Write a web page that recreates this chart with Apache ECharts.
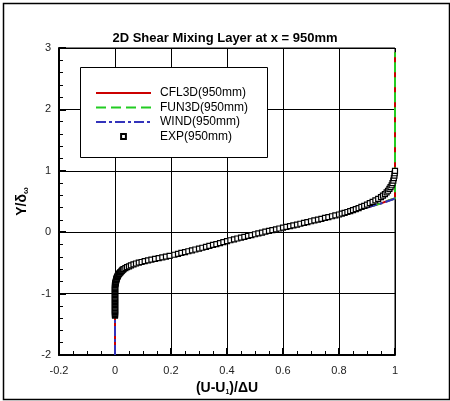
<!DOCTYPE html>
<html>
<head>
<meta charset="utf-8">
<script src="https://cdn.jsdelivr.net/npm/echarts@6/dist/echarts.min.js"></script>
<style>html,body{margin:0;padding:0;background:#fff;}#c{width:450px;height:401px;}</style>
</head>
<body>
<div id="c"></div>
<script>
var titleText = '2D Shear Mixing Layer at x = 950mm';
var seriesNames = ['CFL3D(950mm)', 'FUN3D(950mm)', 'WIND(950mm)', 'EXP(950mm)'];
var xTicks = [-0.2, 0, 0.2, 0.4, 0.6, 0.8, 1];
var yTicks = [-2, -1, 0, 1, 2, 3];

// (U-U1)/dU , Y/delta_w
var cfl3d = [
  [0, -2], [0, -1.4], [0, -0.8], [0.003, -0.74], [0.01, -0.68], [0.025, -0.62], [0.05, -0.56],
  [0.1, -0.48], [0.15, -0.415], [0.2, -0.355], [0.3, -0.245], [0.4, -0.135], [0.5, -0.03],
  [0.6, 0.075], [0.7, 0.18], [0.8, 0.285], [0.85, 0.34], [0.9, 0.4], [0.95, 0.47],
  [0.98, 0.52], [1.0, 0.55], [1.0, 1.5], [1.0, 2.93]
];
var fun3d = [
  [0, -1.25], [0, -0.8], [0.003, -0.74], [0.01, -0.68], [0.025, -0.62], [0.05, -0.56],
  [0.1, -0.48], [0.15, -0.415], [0.2, -0.355], [0.3, -0.245], [0.4, -0.135], [0.5, -0.03],
  [0.6, 0.075], [0.7, 0.18], [0.8, 0.285], [0.85, 0.34], [0.9, 0.4], [0.95, 0.47],
  [0.98, 0.52], [1.0, 0.55], [1.0, 1.5], [1.0, 2.93]
];
var wind = [
  [0, -2], [0, -1.4], [0, -0.72], [0.008, -0.66], [0.02, -0.61], [0.045, -0.56],
  [0.1, -0.48], [0.15, -0.415], [0.2, -0.355], [0.3, -0.245], [0.4, -0.135], [0.5, -0.03],
  [0.6, 0.075], [0.7, 0.18], [0.8, 0.285], [0.85, 0.34], [0.9, 0.4], [0.958, 0.48],
  [0.99, 0.53], [1.0, 0.55]
];
var expData = [
  [0, -1.36], [0, -1.348], [0, -1.335], [0, -1.322], [0, -1.31], [0, -1.297], [0, -1.285],
  [0, -1.272], [0, -1.26], [0, -1.247], [0, -1.235], [0, -1.222], [0, -1.21], [0, -1.197],
  [0, -1.185], [0, -1.172], [0, -1.16], [0, -1.147], [0, -1.135], [0, -1.122], [0, -1.11],
  [0, -1.097], [0, -1.085], [0, -1.072], [0, -1.06], [0, -1.047], [0, -1.035], [0, -1.022],
  [0, -1.01], [0, -0.997], [0, -0.985], [0, -0.972], [0, -0.96], [0, -0.947], [0, -0.935],
  [0, -0.922], [0, -0.91], [0, -0.897], [0, -0.885], [0, -0.872], [0, -0.86], [0.001, -0.85],
  [0.001, -0.84], [0.002, -0.83], [0.002, -0.82], [0.003, -0.81], [0.003, -0.80], [0.004, -0.79],
  [0.004, -0.78], [0.005, -0.77], [0.005, -0.76], [0.006, -0.75], [0.007, -0.74], [0.008, -0.73],
  [0.009, -0.72], [0.010, -0.71], [0.011, -0.70], [0.012, -0.69], [0.014, -0.68], [0.016, -0.67],
  [0.018, -0.66], [0.020, -0.65], [0.022, -0.64], [0.024, -0.63], [0.026, -0.62], [0.028, -0.61],
  [0.031, -0.60], [0.037, -0.585], [0.043, -0.57], [0.05, -0.555], [0.057, -0.54], [0.066, -0.525],
  [0.075, -0.51], [0.085, -0.497], [0.095, -0.485], [0.106, -0.472], [0.118, -0.46], [0.13, -0.447],
  [0.143, -0.435], [0.156, -0.423], [0.169, -0.41], [0.182, -0.398], [0.195, -0.385], [0.212, -0.367],
  [0.225, -0.352], [0.237, -0.338], [0.25, -0.324], [0.262, -0.31], [0.275, -0.296], [0.287, -0.282],
  [0.3, -0.268], [0.312, -0.253], [0.325, -0.238], [0.337, -0.223], [0.35, -0.208], [0.362, -0.193],
  [0.375, -0.177], [0.387, -0.161], [0.4, -0.145], [0.412, -0.131], [0.425, -0.117], [0.437, -0.103],
  [0.45, -0.089], [0.462, -0.075], [0.475, -0.061], [0.487, -0.047], [0.5, -0.033], [0.512, -0.02],
  [0.525, -0.006], [0.537, 0.008], [0.55, 0.021], [0.562, 0.034], [0.575, 0.047], [0.587, 0.06],
  [0.6, 0.073], [0.612, 0.086], [0.625, 0.099], [0.637, 0.112], [0.65, 0.125], [0.662, 0.138],
  [0.675, 0.151], [0.687, 0.164], [0.7, 0.178], [0.712, 0.191], [0.725, 0.205], [0.737, 0.218],
  [0.75, 0.232], [0.762, 0.246], [0.775, 0.26], [0.787, 0.274], [0.8, 0.288], [0.81, 0.301],
  [0.82, 0.315], [0.83, 0.329], [0.84, 0.344], [0.85, 0.36], [0.86, 0.376], [0.87, 0.393],
  [0.88, 0.411], [0.89, 0.43], [0.9, 0.45], [0.91, 0.472], [0.92, 0.495], [0.93, 0.518],
  [0.94, 0.543], [0.95, 0.57], [0.957, 0.595], [0.964, 0.62], [0.97, 0.647], [0.975, 0.675],
  [0.98, 0.705], [0.984, 0.735], [0.988, 0.765], [0.991, 0.8], [0.994, 0.84], [0.996, 0.88],
  [0.998, 0.92], [0.999, 0.96], [1.0, 1.0]
];

var FONT = 'Liberation Sans, Arial, sans-serif';
var chart = echarts.init(document.getElementById('c'), null, {renderer: 'canvas'});
var hideSym = {opacity: 0};
var option = {
  animation: false,
  backgroundColor: '#fff',
  title: {
    text: titleText, left: 'center', top: 27,
    textStyle: {fontFamily: FONT, fontSize: 13, fontWeight: 'bold', color: '#000'}
  },
  graphic: [
    {type: 'rect', left: 1, top: 1, shape: {width: 446, height: 396}, style: {fill: 'none', stroke: '#000', lineWidth: 1.5}, z: 0},
    {type: 'rect', left: 80, top: 67, shape: {width: 187, height: 90}, style: {fill: '#fff', stroke: '#000', lineWidth: 1}, z: 20}
  ],
  legend: {
    orient: 'vertical', left: 95, top: 86, padding: 0, itemGap: 0.5,
    itemWidth: 55, itemHeight: 6, z: 30,
    data: [
      {name: seriesNames[0], itemStyle: hideSym},
      {name: seriesNames[1], itemStyle: hideSym},
      {name: seriesNames[2], itemStyle: hideSym},
      {name: seriesNames[3]}
    ],
    textStyle: {fontFamily: FONT, fontSize: 12, color: '#000', lineHeight: 14, padding: [0, 0, 0, 4]}
  },
  grid: {left: 59, right: 55, top: 48, bottom: 46, show: true, borderColor: '#000', borderWidth: 1, backgroundColor: 'transparent'},
  xAxis: {
    type: 'value', min: xTicks[0], max: xTicks[xTicks.length - 1], interval: 0.2,
    name: '(U-U{s|1})/ΔU', nameLocation: 'middle', nameGap: 20,
    nameTextStyle: {fontFamily: FONT, fontSize: 14, fontWeight: 'bold', color: '#000',
      rich: {s: {fontFamily: FONT, fontSize: 7, fontWeight: 'bold', color: '#000', padding: [9, 0, 0, 0]}}},
    axisLine: {show: true, onZero: false, lineStyle: {color: '#000', width: 2}},
    axisTick: {show: true, inside: true, length: 7, lineStyle: {color: '#000', width: 2}},
    minorTick: {show: true, splitNumber: 4, length: 4, lineStyle: {color: '#000', width: 1}},
    splitLine: {show: true, lineStyle: {color: '#000', width: 1}},
    axisLabel: {fontFamily: FONT, fontSize: 11, color: '#222', margin: 10,
      formatter: function (v) { return String(Math.round(v * 10) / 10); }}
  },
  yAxis: {
    type: 'value', min: yTicks[0], max: yTicks[yTicks.length - 1], interval: 1,
    name: 'Y/δ{s|ω}', nameLocation: 'middle', nameGap: 29, nameRotate: 90,
    nameTextStyle: {fontFamily: FONT, fontSize: 14, fontWeight: 'bold', color: '#000',
      rich: {s: {fontFamily: FONT, fontSize: 8, fontWeight: 'bold', color: '#000', padding: [7, 0, 0, 0]}}},
    axisLine: {show: true, onZero: false, lineStyle: {color: '#000', width: 2}},
    axisTick: {show: true, inside: true, length: 7, lineStyle: {color: '#000', width: 2}},
    minorTick: {show: true, splitNumber: 5, length: 4, lineStyle: {color: '#000', width: 1}},
    splitLine: {show: true, lineStyle: {color: '#000', width: 1}},
    axisLabel: {fontFamily: FONT, fontSize: 11, color: '#222', margin: 8}
  },
  series: [
    {name: seriesNames[0], type: 'line', data: cfl3d, symbol: 'none', z: 3,
      lineStyle: {color: '#cc0000', width: 2}, itemStyle: {color: '#cc0000'}},
    {name: seriesNames[1], type: 'line', data: fun3d, symbol: 'none', z: 4,
      lineStyle: {color: '#22cc22', width: 2, type: [10, 5]}, itemStyle: {color: '#22cc22'}},
    {name: seriesNames[2], type: 'line', data: wind, symbol: 'none', z: 5,
      lineStyle: {color: '#3333bb', width: 2, type: [10, 3, 3, 3]}, itemStyle: {color: '#3333bb'}},
    {name: seriesNames[3], type: 'line', data: expData, symbol: 'rect', symbolSize: 5, showAllSymbol: true, z: 6,
      lineStyle: {width: 0, opacity: 0}, itemStyle: {color: '#fff', borderColor: '#000', borderWidth: 1.2}}
  ]
};
chart.setOption(option);
</script>
</body>
</html>
